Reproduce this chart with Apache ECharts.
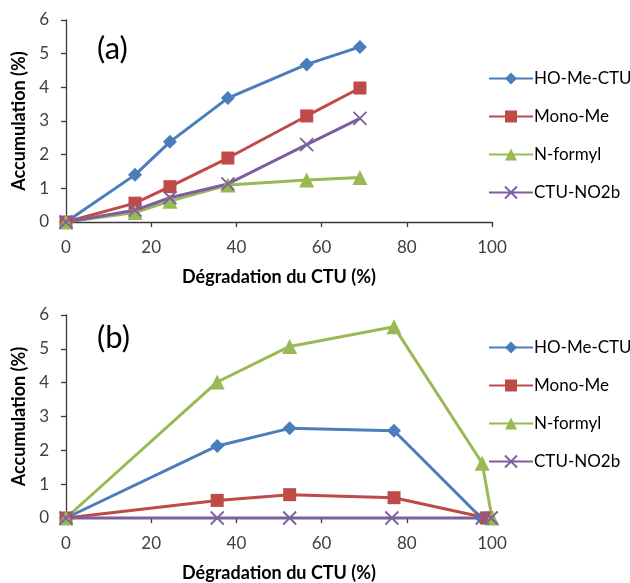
<!DOCTYPE html>
<html><head><meta charset="utf-8">
<script src="https://cdn.jsdelivr.net/npm/echarts@6/dist/echarts.min.js"></script>
<style>html,body{margin:0;padding:0;background:#fff}#c{width:630px;height:583px}</style>
</head><body><div id="c"></div>
<script>
const seriesNames = ['HO-Me-CTU', 'Mono-Me', 'N-formyl', 'CTU-NO2b'];
const colors = ['#4A7EBB', '#BE4B48', '#98B954', '#7D5FA0'];
const xTicks = [0, 20, 40, 60, 80, 100];
const yTicks = [0, 1, 2, 3, 4, 5, 6];
const panelLabels = ['(a)', '(b)'];
const axisNameX = 'Dégradation du CTU (%)';
const axisNameY = 'Accumulation (%)';

// Panel (a): [degradation %, accumulation %]
const a_HOMeCTU = [[0, 0], [16.2, 1.4], [24.4, 2.38], [38, 3.68], [56.5, 4.68], [69, 5.2]];
const a_MonoMe = [[0, 0], [16.2, 0.56], [24.4, 1.05], [38, 1.9], [56.5, 3.15], [69, 3.98]];
const a_Nformyl = [[0, 0], [16.2, 0.28], [24.4, 0.62], [38, 1.1], [56.5, 1.25], [69, 1.32]];
const a_CTUNO2b = [[0, 0], [16.2, 0.35], [24.4, 0.72], [38, 1.13], [56.5, 2.3], [69, 3.08]];

// Panel (b)
const b_HOMeCTU = [[0, 0], [35.5, 2.13], [52.5, 2.65], [77, 2.58], [97.5, 0]];
const b_MonoMe = [[0, 0], [35.5, 0.52], [52.5, 0.69], [77, 0.6], [98.8, 0]];
const b_Nformyl = [[0, 0], [35.5, 4.02], [52.5, 5.07], [77, 5.65], [97.7, 1.62], [100, 0]];
const b_CTUNO2b = [[0, 0], [35.5, 0], [52.5, 0], [76.5, 0], [97.7, 0], [99.8, 0]];

const panelData = [[a_HOMeCTU, a_MonoMe, a_Nformyl, a_CTUNO2b], [b_HOMeCTU, b_MonoMe, b_Nformyl, b_CTUNO2b]];

const FONT = 'Lato';
const symbols = ['diamond', 'rect', 'triangle', 'path://M0,0L10,10M10,0L0,10'];
const symSizes = [14, 13, 15, 13];

const grids = [
  {left: 66, top: 20, width: 426, height: 202},
  {left: 66, top: 315, width: 426, height: 203}
];
const axisLine = {show: true, lineStyle: {color: '#3a3a3a', width: 1.3}};
const axisTick = {show: true, length: 5, inside: false, lineStyle: {color: '#3a3a3a', width: 1.3}};
const xAxes = [], yAxes = [], series = [], legends = [], graphics = [];
grids.forEach((g, i) => {
  xAxes.push({type: 'value', gridIndex: i, min: xTicks[0], max: xTicks[xTicks.length - 1], interval: 20,
    axisLine, axisTick, splitLine: {show: false},
    axisLabel: {fontFamily: FONT, fontSize: 17, color: '#404040', margin: 17},
    name: axisNameX, nameLocation: 'middle', nameGap: 46,
    nameTextStyle: {fontFamily: FONT, fontWeight: 'bold', fontSize: 18, color: '#000'}});
  yAxes.push({type: 'value', gridIndex: i, min: yTicks[0], max: yTicks[yTicks.length - 1], interval: 1,
    axisLine, axisTick, splitLine: {show: false},
    axisLabel: {fontFamily: FONT, fontSize: 17, color: '#404040', margin: 17},
    name: axisNameY, nameLocation: 'middle', nameGap: 35,
    nameTextStyle: {fontFamily: FONT, fontWeight: 'bold', fontSize: 18, color: '#000'}});
  seriesNames.forEach((n, k) => {
    const isX = k === 3;
    series.push({type: 'line', name: n, xAxisIndex: i, yAxisIndex: i, data: panelData[i][k],
      symbol: symbols[k], symbolSize: symSizes[k], showAllSymbol: true, animation: false,
      lineStyle: {color: colors[k], width: 3},
      itemStyle: isX ? {color: 'rgba(0,0,0,0)', borderColor: colors[k], borderWidth: 1.8} : {color: colors[k], borderColor: colors[k], borderWidth: 0}
    });
  });
  legends.push({orient: 'vertical', left: 483, top: i === 0 ? 65 : 334, itemWidth: 44, itemHeight: 15, itemGap: 21,
    data: seriesNames, selectedMode: false,
    textStyle: {fontFamily: FONT, fontSize: 17, color: '#000', padding: [0, 0, 0, -4]}});
  graphics.push({type: 'text', left: 97, top: i === 0 ? 33 : 322,
    style: {text: panelLabels[i], font: '31px ' + FONT, fill: '#000'}});
});

const chart = echarts.init(document.getElementById('c'), null, {renderer: 'canvas'});
chart.setOption({
  animation: false,
  backgroundColor: '#fff',
  grid: grids, xAxis: xAxes, yAxis: yAxes, series, legend: legends, graphic: graphics
});
</script></body></html>
